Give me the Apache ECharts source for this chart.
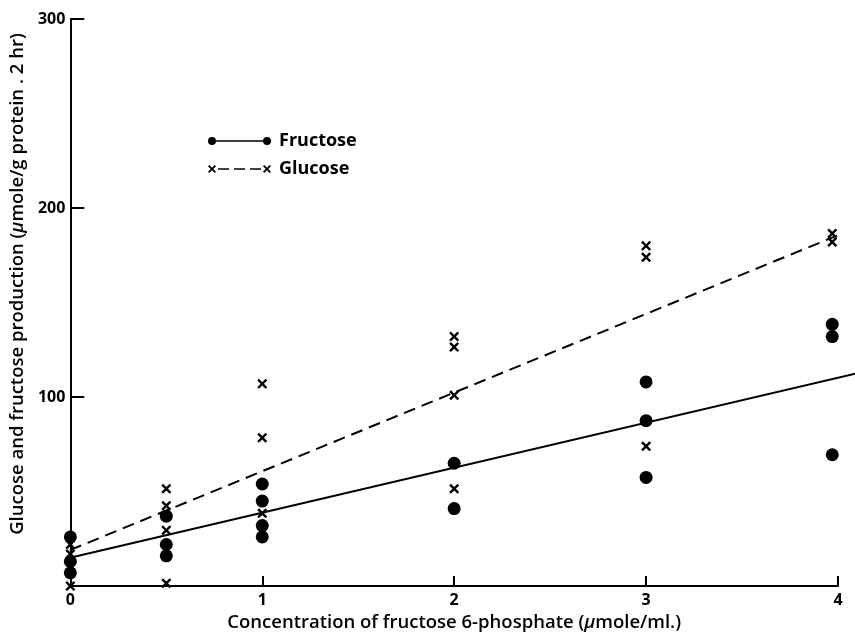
<!DOCTYPE html>
<html>
<head>
<meta charset="utf-8">
<script src="https://cdn.jsdelivr.net/npm/echarts@6/dist/echarts.min.js"></script>
<style>
    html, body { margin: 0; background: #fff; }
    #chart { width: 855px; height: 637px; }
</style>
</head>
<body>
<div id="chart"></div>
<script>
"use strict";
// points: [concentration, production]
const fructosePoints = [
    [0, 26], [0, 13], [0, 7],
    [0.5, 37], [0.5, 22], [0.5, 16],
    [1, 54], [1, 45], [1, 32], [1, 26],
    [2, 65], [2, 41],
    [3, 108], [3, 87.5], [3, 57.5],
    [3.97, 138.5], [3.97, 132], [3.97, 69.5]
];
const glucosePoints = [
    [0, 22], [0, 17], [0, 0],
    [0.5, 51.5], [0.5, 42.5], [0.5, 29.5], [0.5, 1.5],
    [1, 107], [1, 78.5], [1, 38.5],
    [2, 132], [2, 126.5], [2, 101], [2, 51.5],
    [3, 180], [3, 174], [3, 74],
    [3.97, 186.5], [3.97, 182]
];
// fitted lines
const fructoseFit = [[0, 16], [4.09, 113]];
const glucoseFit = [[0, 20], [4, 186]];

(() => {
    let chart = echarts.init(document.getElementById('chart'));
    const font = 'Open Sans';
    const crossSymbol = 'path://M0,1.7L1.7,0L5,3.3L8.3,0L10,1.7L6.7,5L10,8.3L8.3,10L5,6.7L1.7,10L0,8.3L3.3,5Z';
    //图例图标：点-线-点，叉-虚线-叉
    const fructoseIcon = 'path://M0,4A4,4,0,1,1,8,4A4,4,0,1,1,0,4Z' +
        'M55,4A4,4,0,1,1,63,4A4,4,0,1,1,55,4Z' +
        'M8,3.3L55,3.3L55,4.7L8,4.7Z';
    const glucoseIcon = 'path://M0,1.3L1.3,0L4,2.7L6.7,0L8,1.3L5.3,4L8,6.7L6.7,8L4,5.3L1.3,8L0,6.7L2.7,4Z' +
        'M55,1.3L56.3,0L59,2.7L61.7,0L63,1.3L60.3,4L63,6.7L61.7,8L59,5.3L56.3,8L55,6.7L57.7,4Z' +
        'M10,3.3L21,3.3L21,4.7L10,4.7Z' +
        'M26,3.3L37,3.3L37,4.7L26,4.7Z' +
        'M42,3.3L53,3.3L53,4.7L42,4.7Z';
    const titleStyle = {
        fontFamily: font, fontSize: 18.5, fontWeight: 600, color: '#000',
        rich: { it: { fontFamily: font, fontSize: 18.5, fontWeight: 600, fontStyle: 'italic', color: '#000' } }
    };
    let option = {
        animation: false,
        textStyle: { fontFamily: font, color: '#000' },
        grid: [
            { left: 70, right: 17, top: 19, bottom: 49 },
            // same scale, but reaching the right edge so the fitted line can run past 4
            { left: 70, right: 0, top: 19, bottom: 49 }
        ],
        legend: {
            orient: 'vertical',
            left: 203,
            top: 127,
            itemWidth: 63,
            itemHeight: 8,
            itemGap: 10,
            selectedMode: false,
            textStyle: {
                fontFamily: font, fontSize: 18, fontWeight: 'bold', color: '#000',
                lineHeight: 14, padding: [0, 0, 0, 3]
            },
            data: [
                { name: 'Fructose', icon: fructoseIcon, itemStyle: { opacity: 1 } },
                { name: 'Glucose', icon: glucoseIcon, itemStyle: { opacity: 1 } }
            ]
        },
        xAxis: [
            {
                type: 'value',
                gridIndex: 0,
                min: 0,
                max: 4,
                interval: 1,
                name: 'Concentration of fructose 6-phosphate ({it|µ}mole/ml.)',
                nameLocation: 'middle',
                nameGap: 20,
                nameTextStyle: titleStyle,
                axisLine: { lineStyle: { color: '#000', width: 2 } },
                axisTick: { inside: true, length: 10, lineStyle: { color: '#000', width: 2 } },
                axisLabel: { margin: 6, fontFamily: font, fontSize: 16, fontWeight: 'bold', color: '#000' },
                splitLine: { show: false }
            },
            {
                type: 'value',
                gridIndex: 1,
                min: 0,
                max: 785 / 192,
                show: false
            }
        ],
        yAxis: [
            {
                type: 'value',
                gridIndex: 0,
                min: 0,
                max: 300,
                interval: 100,
                name: 'Glucose and fructose production ({it|µ}mole/g protein . 2 hr)',
                nameLocation: 'middle',
                nameGap: 37,
                nameTextStyle: Object.assign({}, titleStyle, { padding: [0, 0, 0, 37] }),
                axisLine: { show: true, lineStyle: { color: '#000', width: 2 } },
                axisTick: { show: true, inside: true, length: 14, lineStyle: { color: '#000', width: 2 } },
                axisLabel: { margin: 5, showMinLabel: false, fontFamily: font, fontSize: 16, fontWeight: 'bold', color: '#000' },
                splitLine: { show: false }
            },
            {
                type: 'value',
                gridIndex: 1,
                min: 0,
                max: 300,
                show: false
            }
        ],
        series: [
            {
                name: 'Fructose',
                type: 'scatter',
                symbol: 'circle',
                symbolSize: 13,
                itemStyle: { color: '#000', opacity: 1 },
                data: fructosePoints
            },
            {
                name: 'Glucose',
                type: 'scatter',
                symbol: crossSymbol,
                symbolSize: 10,
                itemStyle: { color: '#000', opacity: 1 },
                data: glucosePoints
            },
            {
                name: 'Fructose fit',
                type: 'line',
                xAxisIndex: 1,
                yAxisIndex: 1,
                silent: true,
                showSymbol: false,
                lineStyle: { color: '#000', width: 2 },
                data: fructoseFit
            },
            {
                name: 'Glucose fit',
                type: 'line',
                xAxisIndex: 1,
                yAxisIndex: 1,
                silent: true,
                showSymbol: false,
                lineStyle: { color: '#000', width: 2, type: [12, 7] },
                data: glucoseFit
            }
        ]
    };
    chart.setOption(option);
})();
</script>
</body>
</html>
